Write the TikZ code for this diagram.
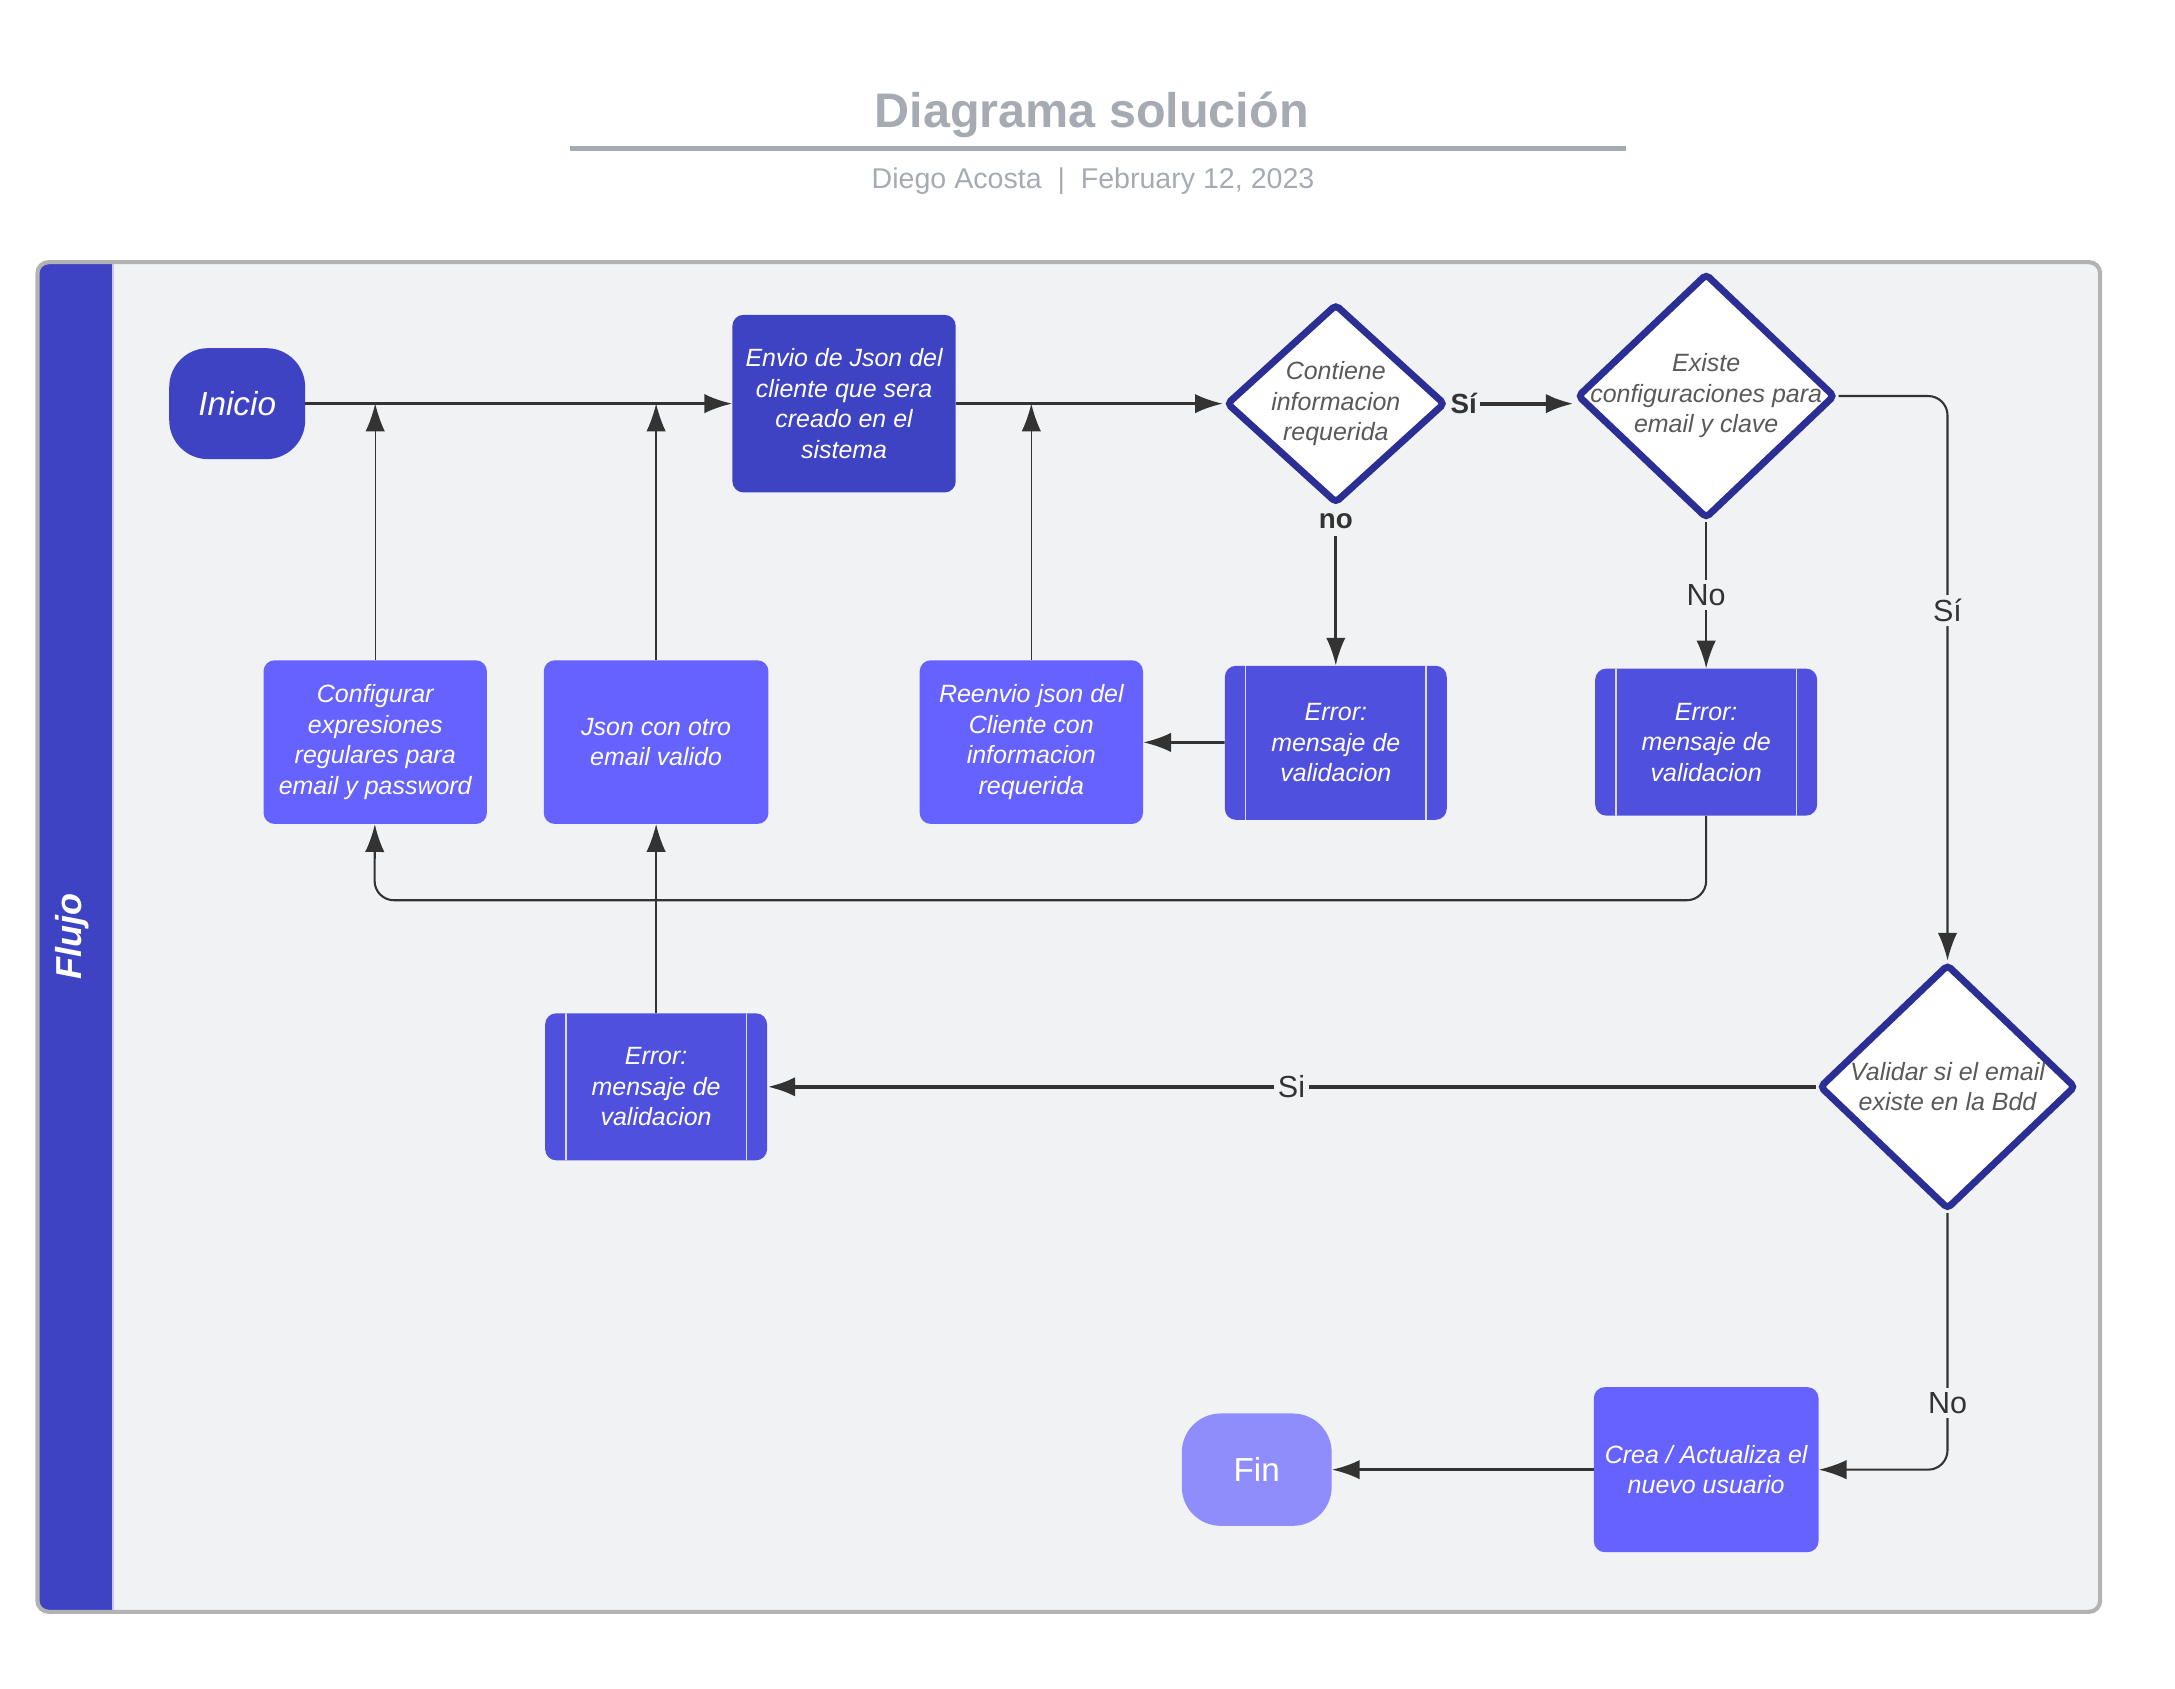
\documentclass[tikz,border=0pt]{standalone}
\usepackage{fontspec}
\setmainfont{Liberation Sans}
\usetikzlibrary{shapes.geometric}
\usetikzlibrary{arrows.meta}
\definecolor{laneblue}{HTML}{3D43C2}
\definecolor{errblue}{HTML}{5050DF}
\definecolor{boxblue}{HTML}{6662FF}
\definecolor{finblue}{HTML}{8F8CFB}
\definecolor{decborder}{HTML}{2B2F94}
\definecolor{framegray}{HTML}{B3B3B3}
\definecolor{framefill}{HTML}{F1F2F4}
\definecolor{titlegray}{HTML}{A6ABB3}
\definecolor{linegray}{HTML}{333333}
\definecolor{dectext}{HTML}{595959}
\NewDocumentCommand \sz {m m}{\fontsize{#1}{#2}\selectfont} % font size, one pt per pixel

\begin{document}
\begin{tikzpicture}[x=1pt, y=-1pt,
    every node/.style={inner sep=0pt},
    proc/.style={rectangle, rounded corners=8pt, fill=boxblue, minimum width=161pt, minimum height=118pt, align=center, text=white, font=\sz{18}{22}\itshape},
    errproc/.style={proc, fill=errblue, minimum width=160pt, minimum height=106pt,
        path picture={\draw[white!80!errblue, line width=0.8pt]
            ([xshift=15pt]path picture bounding box.north west) -- ([xshift=15pt]path picture bounding box.south west)
            ([xshift=-15pt]path picture bounding box.north east) -- ([xshift=-15pt]path picture bounding box.south east);}},
    term/.style={rectangle, rounded corners=28pt, text=white},
    dec/.style={diamond, draw=decborder, line width=5pt, fill=white, rounded corners=3pt},
    dectxt/.style={align=center, text=dectext, font=\sz{18}{22}\itshape},
    conn/.style={draw=linegray, line width=1pt, -{Latex[length=20pt,width=14pt]}},
    lbl/.style={fill=framefill, text=linegray, font=\sz{22}{26}, inner sep=3pt},
    blbl/.style={lbl, font=\sz{20}{24}\bfseries, inner xsep=2pt, inner ysep=5pt},
]
            \useasboundingbox (0,0) rectangle (1568,1217);

            % title block
            \node [font=\sz{35}{40}\bfseries, text=titlegray] (title) at (787,83) {Diagrama solución};
            \draw [titlegray, line width=3pt] (411,107) -- (1172,107);
            \node [font=\sz{20.6}{24}, text=titlegray] (subtitle) at (788,130.5) {Diego Acosta\ \ |\ \ February 12, 2023};

            % swimlane
            \begin{scope}
                \clip [rounded corners=8pt] (27,189) rectangle (1514,1162);
                \fill [framefill] (27,189) rectangle (1514,1162);
                \fill [laneblue] (27,189) rectangle (81,1162);
            \end{scope}
            \draw [white!70!laneblue, line width=1.2pt] (81.5,189) -- (81.5,1162);
            \draw [framegray, line width=3pt, rounded corners=8pt] (27,189) rectangle (1514,1162);
            \node [rotate=90, text=white, font=\sz{26}{30}\bfseries\itshape] (lane title) at (52,675) {Flujo};

            % shapes
            \node [term, fill=laneblue, font=\sz{24}{28}\itshape, minimum width=98pt, minimum height=80pt] (ini) at (171,291) {Inicio};
            \node [proc, fill=laneblue, minimum height=128pt] (env) at (608.5,291) {Envio de Json del\\cliente que sera\\creado en el\\sistema};
            \node [dec, minimum width=158pt, minimum height=144pt, label={[dectxt]center:{Contiene\\informacion\\requerida}}] (c1) at (963,291) {};
            \node [dec, minimum width=186pt, minimum height=177pt, label={[dectxt]center:{Existe\\configuraciones para\\email y clave}}] (c2) at (1230,285.5) {};

            \node [proc] (cfg) at (270.5,535) {Configurar\\expresiones\\regulares para\\email y password};
            \node [proc, minimum width=162pt] (js) at (473,535) {Json con otro\\email valido};
            \node [proc] (re) at (743.5,535) {Reenvio json del\\Cliente con\\informacion\\requerida};
            \node [errproc, minimum height=111pt] (e1) at (963,535.5) {Error:\\mensaje de\\validacion};
            \node [errproc] (e2) at (1230,535) {Error:\\mensaje de\\validacion};

            \node [errproc] (e3) at (473,783.5) {Error:\\mensaje de\\validacion};
            \node [dec, minimum width=185pt, minimum height=177pt, label={[dectxt]center:{Validar si el email\\existe en la Bdd}}] (c3) at (1404,783.5) {};

            \node [proc, minimum width=162pt, minimum height=119pt] (crea) at (1230,1059.5) {Crea / Actualiza el\\nuevo usuario};
            \node [term, fill=finblue, font=\sz{24}{28}, minimum width=108pt, minimum height=81pt] (fin) at (906,1059.5) {Fin};

            \coordinate (bend) at (270,649);

            % connectors
            \draw [conn, line width=2pt] (ini) -- (env);
            \draw [conn, line width=2pt] (env) -- (c1);
            \draw [conn, line width=3pt] (c1.east) -- (c1.east -| c2.west) node [blbl, pos=0.12] {Sí};
            \draw [conn, line width=2pt] (c1) -- (e1) node [blbl, pos=0.09] {no};
            \draw [conn, line width=2pt] (e1) -- (re);
            \draw [conn] (re) -- (re |- ini);
            \draw [conn] (cfg) -- (cfg |- ini);
            \draw [conn] (js) -- (js |- ini);
            \draw [conn, line width=1.5pt] (c2) -- (e2) node [lbl, midway] {No};
            \draw [conn, line width=1.5pt, rounded corners=14pt] (e2) |- (bend) -- (cfg);
            \draw [conn, line width=1.5pt, rounded corners=14pt] (c2) -| (c3) node [lbl, pos=0.69] {Sí};
            \draw [conn, line width=3pt] (c3) -- (e3) node [lbl, midway] {Si};
            \draw [conn] (e3) -- (js);
            \draw [conn, line width=1.5pt, rounded corners=14pt] (c3) |- (crea) node [lbl, pos=0.37] {No};
            \draw [conn, line width=2pt] (crea) -- (fin);
        \end{tikzpicture}
\end{document}
